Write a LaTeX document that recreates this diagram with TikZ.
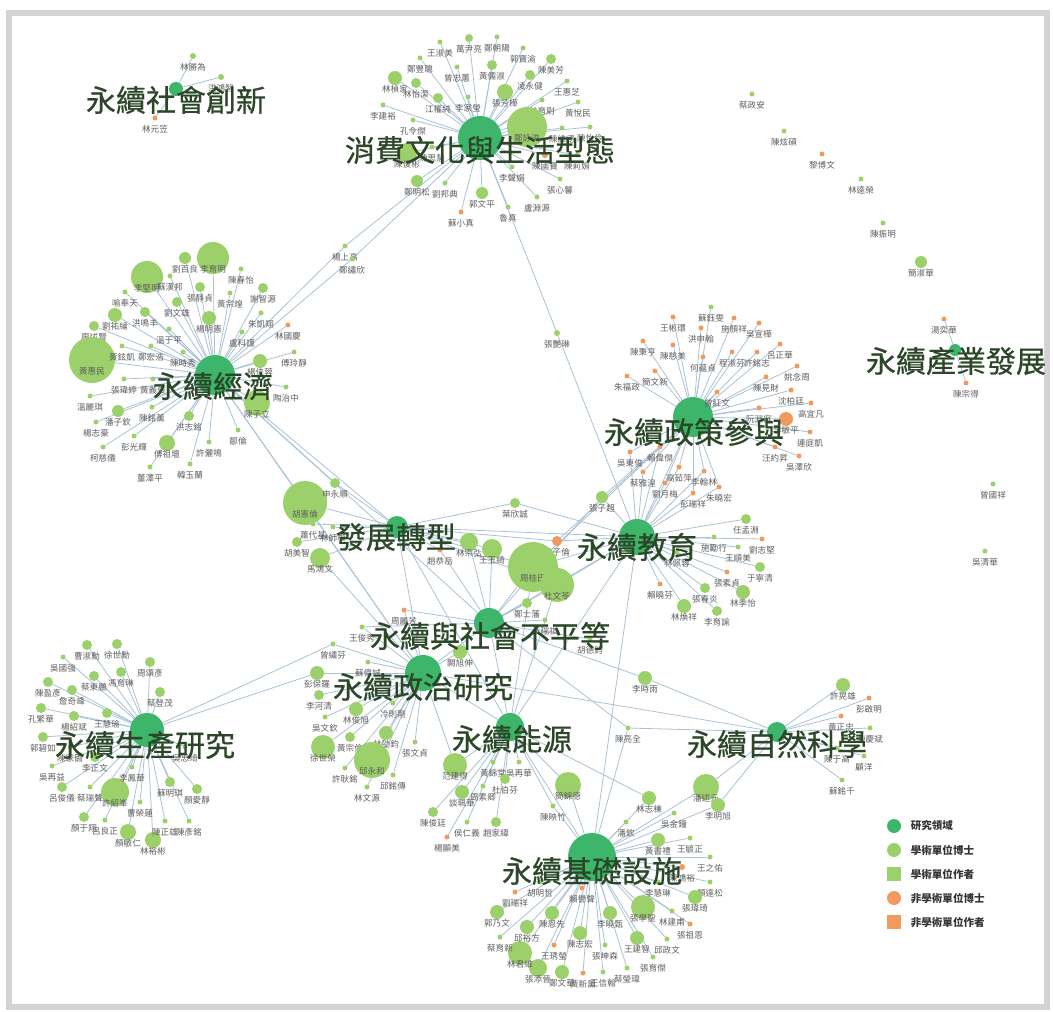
\documentclass[tikz,border=0pt]{standalone}
\usepackage{fontspec}
\newfontfamily\cjk{Noto Sans CJK TC}
\newfontfamily\cjktopic[FakeBold=0.7]{Noto Sans CJK TC}
\usetikzlibrary{positioning,backgrounds}
\definecolor{field}{HTML}{3DB56A}
\definecolor{phd}{HTML}{9CD06A}
\definecolor{ext}{HTML}{F2995E}
\definecolor{linkblue}{HTML}{A9C2D6}
\definecolor{namegrey}{HTML}{5E5E5E}
\definecolor{fieldtext}{HTML}{2B4728}
\definecolor{keygrey}{HTML}{333333}
\definecolor{framegrey}{HTML}{D3D3D3}

\begin{document}
\begin{tikzpicture}[x=0.75pt,y=-0.75pt,
  dot/.style={circle,inner sep=0pt},
  hub/.style={circle,fill=field,inner sep=0pt,minimum size=1.5pt*#1},
  person/.style={font=\cjk\fontsize{6.4}{6.4}\selectfont,text=namegrey,inner sep=0pt},
  topic/.style={font=\cjktopic\fontsize{22.5}{22.5}\selectfont,text=fieldtext,inner sep=0pt},
  key/.style={font=\cjk\bfseries\fontsize{7.9}{7.9}\selectfont,text=keygrey,inner sep=0pt},
  link/.style={draw=linkblue,line width=0.6pt}]
\useasboundingbox (0,0) rectangle (1053,1012);
\begin{pgfonlayer}{background}
  \fill[white] (0,0) rectangle (1053,1012);
\end{pgfonlayer}
\draw[framegrey,line width=5pt] (9,13) rectangle (1047,1007);

% research fields
\node[hub=7] (soc) at (176,89) {};
\node[hub=22] (cons) at (480,138) {};
\node[hub=20] (econ) at (215,375) {};
\node[hub=20] (pol) at (693,417) {};
\node[hub=6] (ind) at (955,350) {};
\node[hub=11] (dev) at (397,527) {};
\node[hub=18] (edu) at (637,537) {};
\node[hub=15] (ineq) at (489,623) {};
\node[hub=18] (polit) at (423,673) {};
\node[hub=14] (ener) at (510,727) {};
\node[hub=17] (prod) at (147,730) {};
\node[hub=10] (nat) at (777,732) {};
\node[hub=24] (infra) at (592,857) {};

% authors of one field
\foreach \hub/\list in {
  soc/{193/56/3/phd/林勝為, 221/77/3/phd/洪鴻智, 155/118/2.5/ext/林元笠},
  cons/{440/42/2.5/phd/王淑美, 469/38/4/phd/萬尹亮, 497/37/2.5/phd/鄭朝陽, 523/48/2.5/phd/郭寶渝, 551/59/5/phd/陳美芳, 420/58/2.5/phd/鄭豐聰, 457/67/2.5/phd/曾忠蕙, 492/65/5/phd/黃儒淑, 530/75/5/phd/凌永健, 567/81/2.5/phd/王惠芝, 395/78/7/phd/林楨家, 416/83/5/phd/林怡潔, 438/98/5/phd/江權純, 468/97/2.5/phd/李家瑩, 505/92/8/phd/張芳樺, 542/100/2.5/phd/林育尉, 578/102/2.5/phd/黃悅民, 383/105/2.5/phd/李建裕, 413/120/2.5/phd/孔令傑, 527/127/20/phd/鄭詠浚, 562/128/2.5/phd/陳維德, 590/127/2.5/phd/陳怡伶, 407/153/10/phd/陳俊彬, 432/147/2.5/phd/陳思慧, 545/155/3/ext/陳國寶, 577/155/2.5/phd/陳莉娟, 512/167/2.5/phd/李聲娟, 560/179/2.5/phd/張心馨, 417/181/6/phd/鄭明松, 445/183/2.5/phd/劉邦典, 482/193/6/phd/郭文平, 537/197/2.5/phd/盧淵源, 508/207/2.5/phd/魯真, 461/212/2.5/ext/蘇小真},
  econ/{185/258/6/phd/劉百良, 213/258/16/phd/李育明, 241/269/2.5/phd/陳春怡, 147/277/16/phd/李堅明, 170/276/2.5/phd/蘇漢邦, 200/287/5/phd/張靜貞, 230/293/2.5/phd/黃宗煌, 263/288/5/phd/謝智源, 125/292/2.5/phd/喻奉天, 177/302/5/phd/劉文雄, 209/318/7/phd/楊明憲, 261/313/2.5/phd/朱凱翔, 288/325/2.5/ext/林國慶, 115/315/7/phd/劉祐綸, 145/312/5/phd/洪鳴丰, 94/326/5/phd/廖述賢, 169/329/2.5/phd/溫于平, 242/332/2.5/phd/盧科謹, 92/360/23/phd/黃惠民, 122/346/2.5/phd/黃鉉凱, 151/346/2.5/phd/鄭宏浩, 183/352/2.5/phd/陳時秀, 260/361/7/phd/楊佳蓉, 294/352/2.5/phd/傅玲靜, 124/379/2.5/phd/張瑋婷, 153/379/2.5/phd/黃義俊, 286/387/2.5/phd/陶治中, 257/403/13/phd/陳子立, 90/396/2.5/phd/溫麗琪, 118/411/6/phd/潘子欽, 152/407/2.5/phd/陳銘薰, 189/416/5/phd/洪志銘, 96/422/2.5/phd/楊志豪, 134/436/2.5/phd/彭光輝, 238/430/2.5/phd/鄒倫, 167/443/8/phd/傅祖壇, 209/442/2.5/phd/許儷鳴, 103/447/2.5/phd/柯慈儀, 150/467/2.5/phd/董澤平, 190/464/2.5/phd/韓玉蘭},
  pol/{711/307/2.5/phd/蘇鈺雯, 673/317/2.5/ext/王彬環, 701/328/2.5/ext/洪申翰, 734/318/2.5/ext/施顏祥, 759/323/2.5/ext/吳宣樺, 643/341/2.5/ext/陳秉亨, 673/345/2.5/ext/陳慈美, 703/357/2.5/ext/何蘊貞, 732/352/2.5/ext/程淑芬, 757/352/2.5/ext/許銘志, 780/344/2.5/ext/呂正華, 797/366/2.5/ext/姚念周, 627/376/2.5/ext/朱福政, 655/371/2.5/ext/簡文新, 766/377/2.5/ext/陳見財, 791/390/2.5/ext/沈柏廷, 717/392/2.5/ext/曾紅文, 811/403/2.5/ext/高宜凡, 759/408/2.5/ext/阮淵庭, 786/419/7/ext/李敏平, 810/432/2.5/ext/連庭凱, 775/447/2.5/ext/汪約昇, 799/456/2.5/ext/吳澤欣},
  edu/{643/472/2.5/ext/蔡雅湟, 679/467/2.5/ext/高茹萍, 704/471/2.5/ext/李翰林, 665/483/2.5/ext/劉月梅, 719/487/2.5/ext/朱曉宏, 693/493/2.5/ext/彭瑞祥, 746/519/5/phd/任孟淵, 714/537/2.5/phd/施勵行, 762/539/2.5/ext/劉志堅, 738/547/2.5/phd/王順美, 760/567/5/phd/于寧清, 727/572/2.5/ext/張素貞, 705/588/5/phd/張春炎, 743/592/7/phd/林季怡, 660/584/2.5/ext/賴曉芬, 684/606/7/phd/林煥祥, 717/611/5/phd/李育諭, 677/552/2.5/phd/林佩蓉},
  dev/{297/542/5/phd/胡美智, 313/524/2.5/phd/蕭代基, 333/527/2.5/phd/林師模},
  ineq/{545/620/2.5/phd/黃瑞祺, 527/603/5/phd/鄭士藩, 590/639/2.5/phd/胡德鈞},
  polit/{460/652/7/phd/闕旭伸, 368/662/2.5/phd/蘇偉誠, 319/695/5/phd/李河清, 356/709/7/phd/林俊旭, 393/703/2.5/phd/冷則剛, 325/717/2.5/phd/吳文欽, 350/737/5/phd/黃宗倫, 386/733/7/phd/林劭鈞, 415/742/2.5/phd/張文貞, 323/747/12/phd/徐世榮, 372/760/18/phd/邱永和, 393/775/2.5/phd/邱銘傳, 345/768/2.5/phd/許耿銘, 367/787/2.5/phd/林文源},
  ener/{493/762/2.5/phd/黃錦堂, 519/762/2.5/phd/吳再華, 505/779/5/phd/杜伯芬, 462/792/7/phd/談珮華, 483/786/2.5/phd/周素卿, 433/812/5/phd/陳俊廷, 467/822/2.5/phd/侯仁義, 496/822/5/phd/趙家緯, 447/837/2.5/ext/楊顯美},
  infra/{674/813/2.5/phd/吳金鐘, 626/822/2.5/phd/潘欽, 658/840/7/phd/黃書禮, 690/838/2.5/phd/王毓正, 710/857/2.5/phd/王之佑, 682/867/3/ext/陳鴻裕, 710/882/2.5/phd/顏達松, 658/882/2.5/phd/李慧琳, 695/897/7/phd/張瑋琦, 643/907/12/phd/張學聖, 672/911/2.5/phd/林建甫, 690/924/2.5/ext/張祖恩, 637/938/7/phd/王建智, 667/939/2.5/phd/邱政文, 653/957/2.5/phd/張育傑, 627/968/2.5/phd/蔡瑩瑋, 603/972/2.5/phd/王信翰, 583/973/2.5/ext/黃新薰, 562/972/7/phd/鄭文華, 538/968/9/phd/張添晉, 520/953/12/phd/林君維, 500/937/2.5/phd/蔡育新, 527/927/7/phd/邱裕方, 554/945/2.5/ext/王琇瑩, 580/933/7/phd/陳志宏, 605/945/2.5/phd/張坤森, 610/913/7/phd/李曉甄, 552/913/7/phd/陳恩先, 497/912/7/phd/郭乃文, 515/892/2.5/ext/劉瑞祥, 540/882/2.5/phd/胡明哲, 582/888/2.5/ext/賴譽聲},
  nat/{843/685/7/phd/許晃雄, 869/698/2.5/ext/彭啟明, 841/716/2.5/ext/黃正忠, 870/728/2.5/phd/陳慶斌, 837/748/2.5/phd/陳于高, 864/756/2.5/phd/顧洋, 842/780/2.5/phd/蘇銘千},
  prod/{87/645/5/phd/曹淑勳, 117/644/5/phd/徐世勳, 63/657/2.5/phd/吳國強, 150/662/5/phd/周頌彥, 94/676/5/phd/蔡東鵬, 121/672/5/phd/馮育琳, 48/682/5/phd/陳盈彥, 72/690/5/phd/詹奇峰, 160/692/5/phd/蔡登茂, 41/708/5/phd/孔繁華, 74/716/5/phd/楊紹斌, 107/713/5/phd/王慧瑜, 43/737/5/phd/郭碧如, 70/747/2.5/phd/陳家園, 95/757/5/phd/李正文, 52/766/2.5/phd/吳再益, 62/787/5/phd/呂俊儀, 90/787/2.5/phd/蔡瑞聲, 115/792/14/phd/許紹峯, 170/782/5/phd/蘇明琪, 197/789/5/phd/顏愛靜, 132/767/2.5/phd/李鳳華, 140/802/2.5/phd/曹榮蓮, 84/817/5/phd/顏于翔, 105/820/2.5/phd/呂良正, 128/832/8/phd/顏敏仁, 153/840/8/phd/林裕彬, 165/821/2.5/phd/陳正雄, 189/821/2.5/phd/陳彥銘, 185/747/2.5/phd/吳思琦},
  ind/{944/319/2.5/ext/湯奕華, 966/383/2.5/ext/陳宗得}}{
  \foreach \px/\py/\r/\kind/\who [count=\i] in \list {
    \node[dot,fill=\kind,minimum size=1.5pt*\r] (\hub-\i) at (\px,\py) {};
    \node[person] (\hub-\i-tag) at ([yshift=-8.25pt]\hub-\i.center) {\who};
    \begin{pgfonlayer}{background}
      \draw[link] (\hub) -- (\hub-\i);
    \end{pgfonlayer}
  }
}

% authors with no field
\foreach \px/\py/\r/\kind/\who [count=\i] in {752/94/2.5/phd/蔡政安, 784/131/2.5/phd/陳炫碩, 822/154/2.5/ext/黎博文, 861/179/2.5/phd/林逵榮, 883/223/2.5/phd/陳振明, 921/262/6/phd/簡淑華, 993/484/2.5/phd/曾國祥, 985/551/2.5/phd/吳清華}{
  \node[dot,fill=\kind,minimum size=1.5pt*\r] (lone-\i) at (\px,\py) {};
  \node[person] (lone-\i-tag) at ([yshift=-8.25pt]lone-\i.center) {\who};
}

% authors shared by fields
\foreach \id/\px/\py/\r/\kind/\who in {yangsg/345/246/2.5/phd/楊上高, zhengxx/352/259/2.5/phd/鄭繡欣, zhangyl/557/333/3/phd/張艷琳, huxl/305/503/22/phd/胡憲倫, shenys/335/483/5/phd/申永順, mahw/320/558/10/phd/馬鴻文, yexc/515/503/5/phd/葉欣誠, linzl/557/541/5/ext/林子倫, zhougt/533/567/25/phd/周桂田, duwl/557/585/17/phd/杜文苓, linzh/469/542/9/phd/林宗弘, wangyq/492/549/10/phd/王玉綺, zhaogy/440/550/2.5/ext/趙恭岳, zhangzc/602/497/6/phd/張子超, wudj/630/452/2.5/ext/吳東俊, laiwj/660/447/2.5/ext/賴偉傑, lisy/645/678/7/phd/李時雨, chenlq/628/728/2.5/phd/陳亮全, fanjd/455/765/12/phd/范建得, jianjd/568/785/13/phd/簡錦德, chenyz/553/806/2.5/phd/陳映竹, pansy/706/787/13/phd/潘述元, limx/718/805/7/phd/李明旭, zengxf/333/644/2.5/phd/曾繡芬, pengbl/317/673/7/phd/彭保羅, wangjx/362/627/2.5/phd/王俊秀, zhoulf/404/610/2.5/ext/周麗芳, linzd/649/798/7/phd/林志棟}{
  \node[dot,fill=\kind,minimum size=1.5pt*\r] (\id) at (\px,\py) {};
  \node[person] (\id-tag) at ([yshift=-8.25pt]\id.center) {\who};
}

\begin{pgfonlayer}{background}
  \foreach \a/\b in {yangsg/cons, yangsg/econ, zhengxx/cons, zhengxx/econ, zhangyl/cons, zhangyl/edu, huxl/dev, huxl/econ, huxl/polit, shenys/dev, shenys/econ, mahw/dev, mahw/polit, yexc/dev, yexc/edu, linzl/dev, linzl/edu, linzl/pol, zhougt/dev, zhougt/edu, zhougt/ineq, zhougt/ener, zhougt/pol, duwl/dev, duwl/edu, duwl/ineq, duwl/ener, linzh/dev, linzh/ineq, wangyq/dev, wangyq/ineq, zhaogy/dev, zhaogy/ineq, zhangzc/edu, zhangzc/ineq, zhangzc/pol, wudj/pol, wudj/edu, laiwj/pol, laiwj/edu, lisy/nat, lisy/ineq, chenlq/nat, chenlq/ineq, chenlq/infra, fanjd/ener, fanjd/polit, jianjd/ener, jianjd/infra, chenyz/ener, chenyz/infra, pansy/infra, pansy/nat, limx/infra, limx/nat, zengxf/polit, zengxf/prod, pengbl/polit, pengbl/prod, wangjx/ineq, wangjx/polit, zhoulf/ineq, zhoulf/polit, linzd/infra, linzd/ener}
    \draw[link] (\a) -- (\b);
  \foreach \a/\b in {econ/dev, econ/ineq, econ/polit, dev/polit, dev/ener, dev/edu, ineq/polit, ineq/ener, ineq/edu, polit/ener, edu/ener, ener/infra, edu/infra, edu/pol, polit/nat}
    \draw[link] (\a) -- (\b);
  \foreach \i in {1,...,6}
    \draw[link] (edu-\i) -- (pol);
\end{pgfonlayer}

% field names
\node[topic] (soc-title) at (176,100) {永續社會創新};
\node[topic] (cons-title) at (480,150) {消費文化與生活型態};
\node[topic] (econ-title) at (213,386) {永續經濟};
\node[topic] (ind-title) at (956,361) {永續產業發展};
\node[topic] (pol-title) at (694,432) {永續政策參與};
\node[topic] (dev-title) at (396,537) {發展轉型};
\node[topic] (edu-title) at (637,547) {永續教育};
\node[topic] (ineq-title) at (490,636) {永續與社會不平等};
\node[topic] (polit-title) at (423,687) {永續政治研究};
\node[topic] (ener-title) at (512,739) {永續能源};
\node[topic] (prod-title) at (145,745) {永續生產研究};
\node[topic] (nat-title) at (777,744) {永續自然科學};
\node[topic] (infra-title) at (592,871) {永續基礎設施};

% legend
\node[hub=7] (key-field) at (894,826) {};
\node[dot,fill=phd,minimum size=10.5pt] (key-phd) at (894,850) {};
\node[fill=phd,inner sep=0pt,minimum size=10pt] (key-author) at (894,874) {};
\node[dot,fill=ext,minimum size=10.5pt] (key-extphd) at (894,898) {};
\node[fill=ext,inner sep=0pt,minimum size=10pt] (key-extauthor) at (894,922) {};
\node[key,right=7pt of key-field] (key-field-tag) {研究領域};
\node[key,right=7pt of key-phd] (key-phd-tag) {學術單位博士};
\node[key,right=7.25pt of key-author] (key-author-tag) {學術單位作者};
\node[key,right=7pt of key-extphd] (key-extphd-tag) {非學術單位博士};
\node[key,right=7.25pt of key-extauthor] (key-extauthor-tag) {非學術單位作者};
\end{tikzpicture}
\end{document}
